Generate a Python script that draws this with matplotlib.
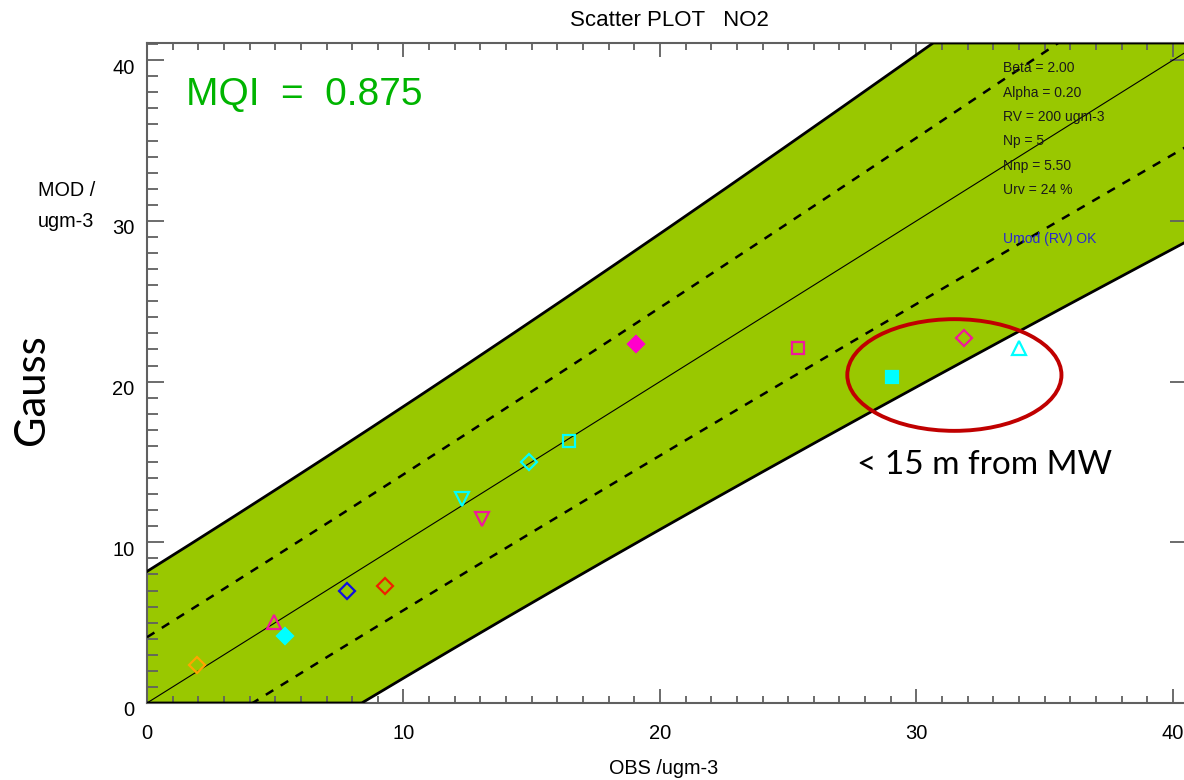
import numpy as np
import matplotlib.pyplot as plt
from matplotlib.patches import Ellipse
from matplotlib.ticker import MultipleLocator
import matplotlib.transforms as mtransforms

# MQO parameters (yearly averages, NO2)
beta = 2.0
alpha = 0.20
rv = 200
np_ = 5
nnp = 5.50
urv = 0.24
mqi = 0.875

# station values: observed vs modelled
obs = [1.96, 4.96, 5.38, 7.78, 9.28, 12.27, 13.06, 14.88, 16.46, 19.05, 25.39, 29.03, 31.85, 34.0]
mod = [2.35, 5.04, 4.17, 6.97, 7.28, 12.68, 11.45, 15.02, 16.32, 22.32, 22.07, 20.27, 22.69, 22.07]
markers = ['D', '^', 'D', 'D', 'D', 'v', 'v', 'D', 's', 'D', 's', 's', 'D', '^']
colors = ['#FFA500', '#F0189C', '#00FFFF', '#1010E0', '#F02000', '#00FFFF', '#F0189C',
          '#00FFFF', '#00FFFF', '#FF00CC', '#F0189C', '#00FFFF', '#F0189C', '#00FFFF']
filled = [False, False, True, False, False, False, False,
          False, False, True, False, True, False, False]

xmax = 40.55
ymax = 41.07

plt.rcParams['font.family'] = ['Liberation Sans', 'DejaVu Sans']

fig = plt.figure(figsize=(11.84, 7.80), dpi=100)
ax = fig.add_axes([147 / 1184, 1 - 703 / 780, 1040 / 1184, 660 / 780])


def unc(o):
    return urv * np.sqrt((1 - alpha ** 2) * o ** 2 / np_ + alpha ** 2 * rv ** 2 / nnp)


o = np.linspace(0, 45, 500)
upper = o + beta * unc(o)
lower = o - beta * unc(o)

green = '#99C800'
ax.fill_between(o, np.clip(lower, 0, None), np.clip(upper, None, ymax), color=green, lw=0, zorder=1)
ax.plot(o, np.clip(upper, None, ymax), color='black', lw=2, zorder=3)
ax.plot(o, np.clip(lower, 0, None), color='black', lw=2, zorder=3)
ax.plot(o, o + unc(o), color='black', lw=1.8, ls=(0, (3.5, 3.5)), zorder=3)
ax.plot(o, o - unc(o), color='black', lw=1.8, ls=(0, (3.5, 3.5)), zorder=3)
ax.plot(o, o, color='black', lw=0.8, zorder=3)

sizes = {'D': 7.8, 's': 8.5, '^': 9.5, 'v': 9.5}
for x, y, m, c, f in zip(obs, mod, markers, colors, filled):
    ax.plot(x, y, marker=m, ms=sizes[m], mec=c, mfc=c if f else 'none', mew=1.6,
            ls='none', zorder=5)

ax.add_patch(Ellipse((31.48, 20.41), 8.35, 6.95, fill=False, ec='#C00000', lw=2.8, zorder=6))

ax.set_xlim(0, xmax)
ax.set_ylim(0, ymax)
ax.xaxis.set_major_locator(MultipleLocator(10))
ax.yaxis.set_major_locator(MultipleLocator(10))
ax.xaxis.set_minor_locator(MultipleLocator(1))
ax.yaxis.set_minor_locator(MultipleLocator(1))
ax.tick_params(which='both', direction='in', top=True, color='#606060', width=1.3)
ax.tick_params(which='major', right=True, labelsize=14.5)
ax.tick_params(axis='x', which='major', length=10, pad=15)
ax.tick_params(axis='x', which='minor', length=5)
ax.tick_params(axis='y', which='major', length=12, pad=9)
ax.tick_params(axis='y', which='minor', length=8)
for sp in ax.spines.values():
    sp.set_color('#606060')
    sp.set_linewidth(1.5)

# IDL style: y labels sit a little below their ticks
shift = mtransforms.ScaledTranslation(0, -6 / 100, fig.dpi_scale_trans)
for lab in ax.get_yticklabels():
    lab.set_transform(lab.get_transform() + shift)

fig.text(669 / 1184, 1 - 20 / 780, 'Scatter PLOT   NO2', ha='center', va='center', fontsize=16)
fig.text(664 / 1184, 1 - 769 / 780, 'OBS /ugm-3', ha='center', va='center', fontsize=14.3)
fig.text(38 / 1184, 1 - 206 / 780, 'MOD /\nugm-3', ha='left', va='center', fontsize=14.3,
         linespacing=1.85)
fig.text(32 / 1184, 1 - 390 / 780, 'Gauss', rotation=90, ha='center', va='center',
         fontsize=30, family=['Lato', 'DejaVu Sans'])
fig.text(186 / 1184, 1 - 95 / 780, f'MQI  =  {mqi:.3f}', ha='left', va='center',
         fontsize=28, color='#00B400')

stats = [f'Beta = {beta:.2f}', f'Alpha = {alpha:.2f}', f'RV = {rv} ugm-3',
         f'Np = {np_}', f'Nnp = {nnp:.2f}', f'Urv = {urv * 100:.0f} %']
for i, s in enumerate(stats):
    fig.text(1003 / 1184, 1 - (68 + 24.5 * i) / 780, s, ha='left', va='center',
             fontsize=10, color='#1a1a1a')
fig.text(1003 / 1184, 1 - 239 / 780, 'Umod (RV) OK', ha='left', va='center',
         fontsize=10, color='#2828D0')

fig.text(857 / 1184, 1 - 465 / 780, '< 15 m from MW', ha='left', va='center',
         fontsize=24, family=['Lato', 'DejaVu Sans'])

fig.savefig('out.png', dpi=100)
